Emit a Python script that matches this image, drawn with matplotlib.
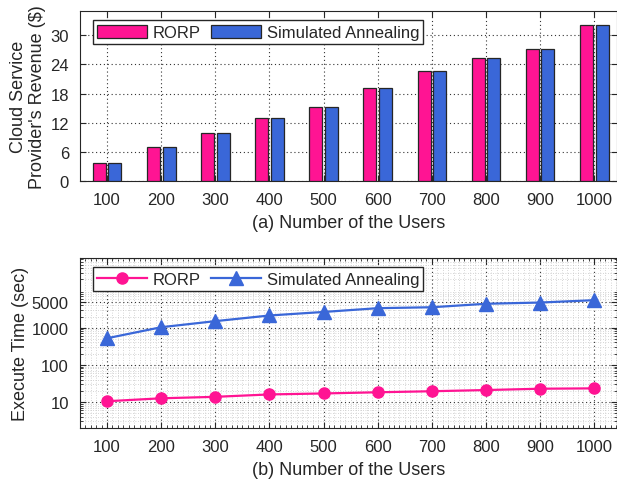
import matplotlib
matplotlib.use("Agg")
import matplotlib.pyplot as plt
import numpy as np
from matplotlib.ticker import MultipleLocator, FixedLocator, NullFormatter, LogLocator

plt.rcParams['font.family'] = ['Liberation Sans', 'DejaVu Sans']
plt.rcParams['text.color'] = '#262626'
plt.rcParams['axes.labelcolor'] = '#262626'
plt.rcParams['xtick.color'] = '#262626'
plt.rcParams['ytick.color'] = '#262626'

users = [100, 200, 300, 400, 500, 600, 700, 800, 900, 1000]
revenue_rorp = [3.7, 6.9, 9.9, 13.0, 15.3, 19.2, 22.7, 25.4, 27.1, 32.1]
revenue_sa = [3.7, 6.9, 9.9, 13.0, 15.3, 19.2, 22.7, 25.4, 27.1, 32.1]
time_rorp = [10.5, 12.6, 13.8, 16.0, 17.0, 18.3, 19.5, 21.0, 22.8, 23.3]
time_sa = [520, 1030, 1500, 2130, 2650, 3350, 3550, 4400, 4750, 5500]
rev_ticks = [0, 6, 12, 18, 24, 30]
time_ticks = [10, 100, 1000, 5000]
time_ticklabels = ['10', '100', '1000', '5000']

pink = '#FF1493'
blue = '#3A67D8'
edge = '#262626'

W, H = 617, 485
fig = plt.figure(figsize=(W / 100, H / 100), dpi=100)
ax1 = fig.add_axes([80 / W, 1 - 182 / H, 537 / W, 170 / H])
ax2 = fig.add_axes([80 / W, 1 - 429 / H, 537 / W, 170 / H])

x = np.array(users)
bw = 24
off = 14.5
ax1.bar(x - off, revenue_rorp, width=bw, color=pink, edgecolor=edge, linewidth=0.9, label='RORP', zorder=3)
ax1.bar(x + off, revenue_sa, width=bw, color=blue, edgecolor=edge, linewidth=0.9, label='Simulated Annealing', zorder=3)
ax1.set_ylim(0, 35)
ax1.set_yticks(rev_ticks)
ax1.set_ylabel("Cloud Service\nProvider's Revenue ($)", fontsize=13, labelpad=3, linespacing=1.15)
ax1.set_xlabel("(a) Number of the Users", fontsize=13, labelpad=5)
ax1.legend(loc='upper left', bbox_to_anchor=(0.024, 0.945), ncol=2, fontsize=12,
           frameon=True, fancybox=False, edgecolor=edge, framealpha=1,
           handlelength=3.0, handleheight=0.9, columnspacing=0.6, handletextpad=0.35,
           borderpad=0.25, borderaxespad=0)

ax2.plot(x, time_rorp, color=pink, marker='o', markersize=8, linewidth=1.6, label='RORP', zorder=3)
ax2.plot(x, time_sa, color=blue, marker='^', markersize=10, linewidth=1.6, label='Simulated Annealing', zorder=3)
ax2.set_yscale('log')
ax2.set_ylim(2, 75000)
ax2.yaxis.set_major_locator(FixedLocator(time_ticks))
ax2.set_yticklabels(time_ticklabels)
ax2.yaxis.set_minor_locator(LogLocator(base=10, subs=np.arange(2, 10)))
ax2.yaxis.set_minor_formatter(NullFormatter())
ax2.xaxis.set_minor_locator(MultipleLocator(10))
ax2.set_ylabel("Execute Time (sec)", fontsize=13, labelpad=2)
ax2.set_xlabel("(b) Number of the Users", fontsize=13, labelpad=5)
ax2.grid(True, which='minor', linestyle=(0, (1, 2)), color='#c8c8c8', linewidth=0.6, zorder=0)
ax2.legend(loc='upper left', bbox_to_anchor=(0.024, 0.945), ncol=2, fontsize=12,
           frameon=True, fancybox=False, edgecolor=edge, framealpha=1,
           handlelength=3.0, columnspacing=0.6, handletextpad=0.35,
           borderpad=0.25, borderaxespad=0)

for ax in (ax1, ax2):
    ax.set_xlim(50, 1042)
    ax.set_xticks(users)
    ax.grid(True, which='major', linestyle=(0, (1, 2.5)), color='#333333', linewidth=0.8, zorder=0)
    ax.set_axisbelow(True)
    ax.tick_params(which='both', direction='in', top=True, right=True, labelsize=12, pad=8)
    ax.tick_params(which='major', length=4)
    ax.tick_params(which='minor', length=2)
    for s in ax.spines.values():
        s.set_color(edge)
        s.set_linewidth(0.8)

fig.savefig('out.png', dpi=100)
